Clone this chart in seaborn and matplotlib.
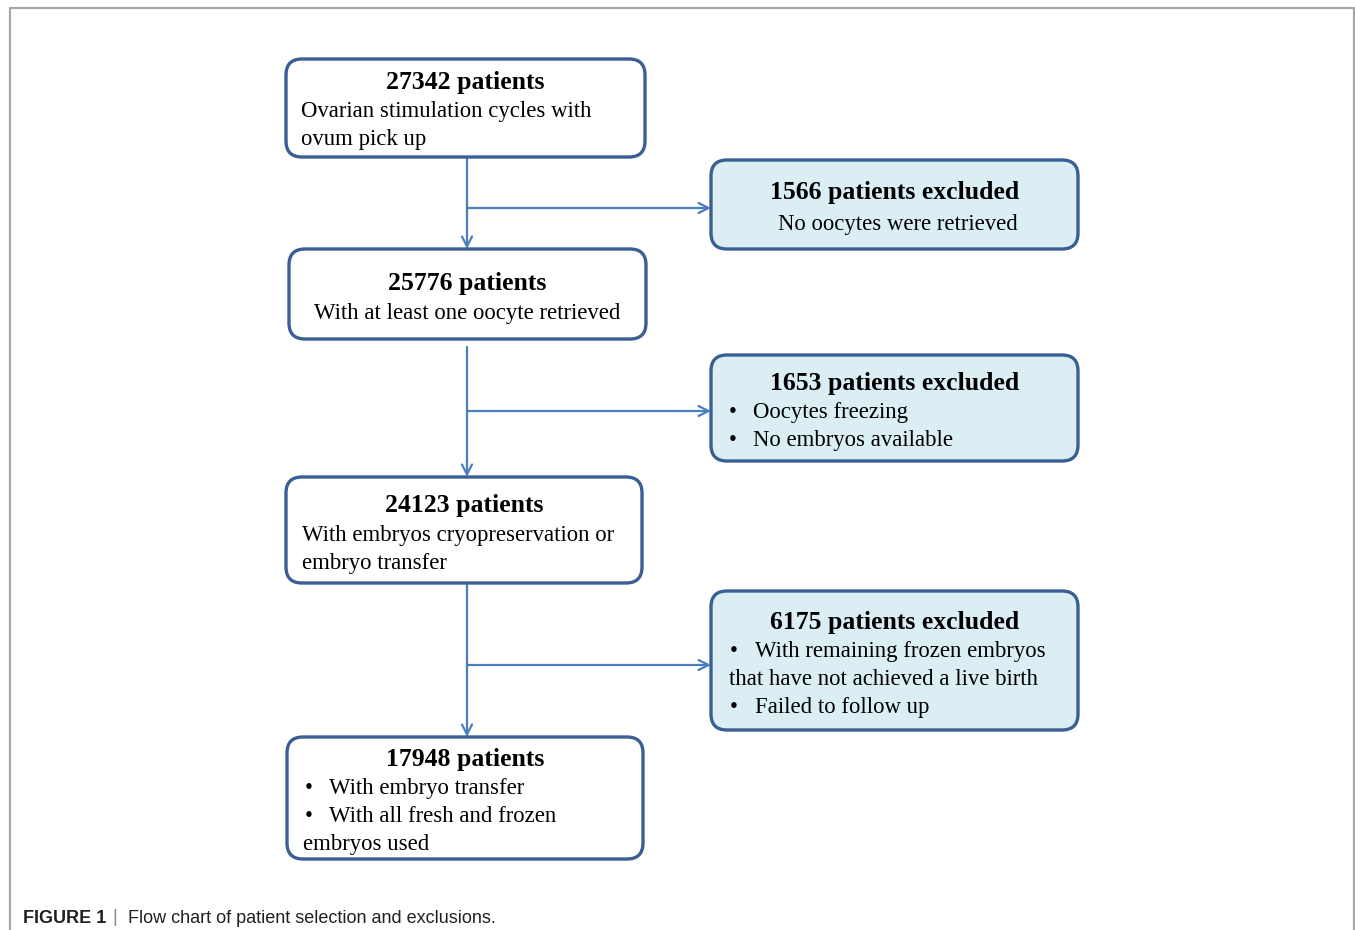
import matplotlib.pyplot as plt
import seaborn as sns
from matplotlib.patches import FancyBboxPatch

# chart content
counts = [27342, 25776, 24123, 17948]
included_notes = [
    ["Ovarian stimulation cycles with", "ovum pick up"],
    ["With at least one oocyte retrieved"],
    ["With embryos cryopreservation or", "embryo transfer"],
    ["\u2022", "With embryo transfer", "\u2022", "With all fresh and frozen", "embryos used"],
]
excluded = [1566, 1653, 6175]
excluded_notes = [
    ["No oocytes were retrieved"],
    ["\u2022", "Oocytes freezing", "\u2022", "No embryos available"],
    ["\u2022", "With remaining frozen embryos", "that have not achieved a live birth",
     "\u2022", "Failed to follow up"],
]
caption_bold = "FIGURE 1"
caption_text = "Flow chart of patient selection and exclusions."

sns.set_theme(style="white")
plt.rcParams["font.family"] = ["Liberation Serif", "DejaVu Serif"]
plt.rcParams["text.color"] = "black"

W, H = 1355, 930
fig = plt.figure(figsize=(W / 100, H / 100), dpi=100)
ax = fig.add_axes([0, 0, 1, 1])
ax.set_xlim(0, W)
ax.set_ylim(H, 0)
ax.axis("off")

edge = "#3A5F94"
fill = "#DBEEF4"
arrow_c = "#4A7EBF"
title_fs = 18.5
body_fs = 16.4
dy = 2  # baseline nudge


def box(x0, x1, y0, y1, fc):
    p = FancyBboxPatch((x0, y0), x1 - x0, y1 - y0,
                       boxstyle="round,pad=0,rounding_size=16",
                       fc=fc, ec=edge, lw=2.4, zorder=2)
    ax.add_patch(p)


def arrow(xa, ya, xb, yb):
    ax.annotate("", xy=(xb, yb), xytext=(xa, ya),
                arrowprops=dict(arrowstyle="->", color=arrow_c, lw=1.6,
                                shrinkA=0, shrinkB=0, mutation_scale=18),
                zorder=1)


def note(x, y, s, ha="left"):
    ax.text(x, y + dy, s, fontsize=body_fs, va="center", ha=ha, color="black", zorder=3)


# outer frame
ax.plot([10, 10, 1354, 1354], [H, 8, 8, H], color="#A6A6A6", lw=1.6, zorder=0)

# included boxes
inc_geo = [(286, 645, 59, 157), (289, 646, 249, 339), (286, 642, 477, 583), (287, 643, 737, 859)]
inc_title_y = [81, 281, 503, 757]
for (x0, x1, y0, y1), n, ty in zip(inc_geo, counts, inc_title_y):
    box(x0, x1, y0, y1, "white")
    ax.text((x0 + x1) / 2, ty + dy, f"{n} patients", ha="center", va="center",
            fontsize=title_fs, fontweight="bold", color="black", zorder=3)

note(301, 110, included_notes[0][0])
note(301, 138, included_notes[0][1])
note(467, 311, included_notes[1][0], ha="center")
note(302, 533, included_notes[2][0])
note(302, 561, included_notes[2][1])
note(305, 786, included_notes[3][0])
note(329, 786, included_notes[3][1])
note(305, 814, included_notes[3][2])
note(329, 814, included_notes[3][3])
note(303, 842, included_notes[3][4])

# excluded boxes
exc_geo = [(711, 1078, 160, 249), (711, 1078, 355, 461), (711, 1078, 591, 730)]
exc_title_y = [190, 381, 620]
for (x0, x1, y0, y1), n, ty in zip(exc_geo, excluded, exc_title_y):
    box(x0, x1, y0, y1, fill)
    ax.text((x0 + x1) / 2, ty + dy, f"{n} patients excluded", ha="center", va="center",
            fontsize=title_fs, fontweight="bold", color="black", zorder=3)

note(898, 222, excluded_notes[0][0], ha="center")
note(729, 410, excluded_notes[1][0])
note(753, 410, excluded_notes[1][1])
note(729, 438, excluded_notes[1][2])
note(753, 438, excluded_notes[1][3])
note(730, 649, excluded_notes[2][0])
note(755, 649, excluded_notes[2][1])
note(729, 677, excluded_notes[2][2])
note(730, 705, excluded_notes[2][3])
note(755, 705, excluded_notes[2][4])

# connectors
stem_x = 467
stems = [(157, 249), (347, 477), (583, 737)]
branch_y = [208, 411, 665]
for (top, bottom), by, (ex0, _, _, _) in zip(stems, branch_y, exc_geo):
    arrow(stem_x, top, stem_x, bottom)
    arrow(stem_x, by, ex0, by)

# caption
cap_font = ["Liberation Sans", "DejaVu Sans"]
ax.text(23, 918, caption_bold, fontsize=13, fontweight="bold", va="center",
        family=cap_font, color="#231F20")
ax.text(112, 917, "|", fontsize=13, va="center", color="#888888", family=cap_font)
ax.text(128, 918, caption_text, fontsize=13, va="center",
        family=cap_font, color="#231F20")

fig.savefig("out.png", dpi=100)
